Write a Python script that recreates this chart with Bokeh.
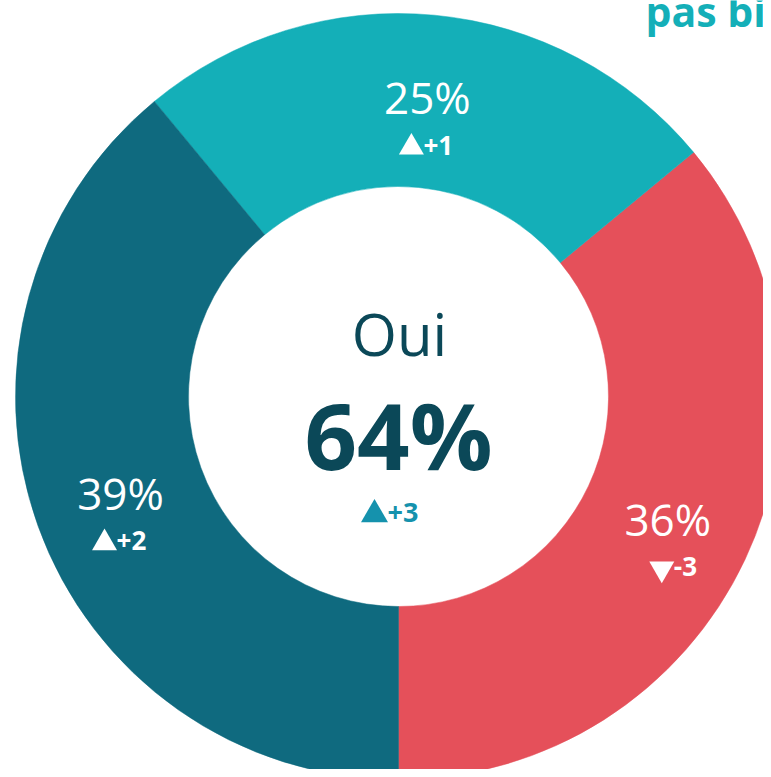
import numpy as np
from bokeh.plotting import figure
from bokeh.models import Range1d, ColumnDataSource
from bokeh.core.properties import value
from bokeh.embed import file_html
from bokeh.resources import INLINE

# ---- data ----
shares = [36, 25, 39]
share_labels = ["36%", "25%", "39%"]
delta_values = ["-3", "+1", "+2"]
delta_dirs = ["down", "up", "up"]
colors = ["#E5505A", "#14AFB8", "#0F6A7F"]
center_label = "Oui"
center_value = "64%"
center_delta = "+3"
center_dir = "up"
header = "pas bien"

# ---- geometry (picture pixels, y up = -screen y) ----
CX, CY = 398, -396
R_OUT, R_IN = 383, 210

frac = np.array(shares, dtype=float) / sum(shares)
start = -np.pi / 2 + 2 * np.pi * np.concatenate([[0.0], np.cumsum(frac)[:-1]])
end = start + 2 * np.pi * frac
mid = (start + end) / 2
rm = (R_OUT + R_IN) / 2
lx = CX + rm * np.cos(mid)
ly = CY + rm * np.sin(mid)

shift = np.array([10 if d == "down" else 0 for d in delta_dirs])
markers = ["inverted_triangle" if d == "down" else "triangle" for d in delta_dirs]

src = ColumnDataSource(dict(start=start, end=end, color=colors,
                            lx=lx + 1, ly=ly + 4,
                            tx=lx - 15 + shift, ty=ly - 46,
                            nx=lx - 3 + shift, ny=ly - 44,
                            lab=share_labels, dl=delta_values, mk=markers))

p = figure(width=763, height=769, x_range=Range1d(0, 763), y_range=Range1d(-769, 0),
           output_backend="svg", toolbar_location=None, min_border=0)
p.axis.visible = False
p.grid.visible = False
p.outline_line_color = None
p.background_fill_color = "white"
p.border_fill_color = "white"

p.annular_wedge(x=CX, y=CY, inner_radius=R_IN, outer_radius=R_OUT,
                start_angle="start", end_angle="end", direction="anticlock",
                fill_color="color", line_color="color", line_width=0.5, source=src)

FONT = value("Open Sans")
p.text(x="lx", y="ly", text="lab", source=src, text_color="white",
       text_font=FONT, text_font_size="44px", text_align="center", text_baseline="middle")
p.scatter(x="tx", y="ty", marker="mk", size=25, source=src,
          fill_color="white", line_color=None)
p.text(x="nx", y="ny", text="dl", source=src, text_color="white",
       text_font=FONT, text_font_size="26px", text_font_style="bold",
       text_align="left", text_baseline="middle")

DARK = "#0B4858"
p.text(x=[CX + 1], y=[-333], text=[center_label], text_color=DARK,
       text_font=FONT, text_font_size="58px", text_align="center", text_baseline="middle")
p.text(x=[CX], y=[-434], text=[center_value], text_color=DARK,
       text_font=FONT, text_font_size="92px", text_font_style="bold",
       text_align="center", text_baseline="middle")
p.scatter(x=[CX - 24], y=[-514], marker="triangle" if center_dir == "up" else "inverted_triangle",
          size=27, fill_color="#1592AD", line_color=None)
p.text(x=[CX - 11], y=[-512], text=[center_delta], text_color="#1592AD",
       text_font=FONT, text_font_size="27px", text_font_style="bold",
       text_align="left", text_baseline="middle")

p.text(x=[645], y=[-10], text=[header], text_color="#14AFB8",
       text_font=FONT, text_font_size="41px", text_font_style="bold",
       text_align="left", text_baseline="alphabetic")

open("out.html", "w").write(file_html(p, INLINE))
